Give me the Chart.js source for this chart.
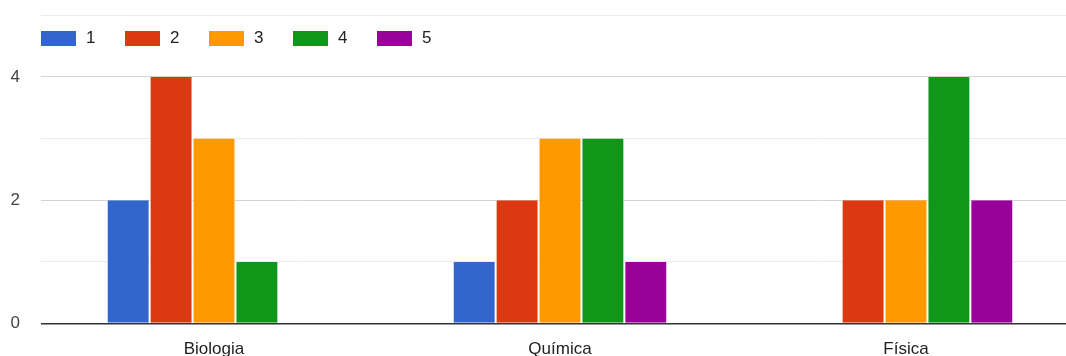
<!DOCTYPE html>
<html>
<head>
<meta charset="utf-8">
<script src="https://cdn.jsdelivr.net/npm/chart.js@4/dist/chart.umd.min.js"></script>
<style>
  html, body { margin: 0; padding: 0; background: #fff; overflow: hidden; }
  #wrap { position: absolute; left: 0; top: -16px; width: 1079px; height: 392px; }
  #legend { position: absolute; left: 41px; top: 28px; display: flex; font-family: Arial, "Liberation Sans", sans-serif; font-size: 17px; color: #222; }
  .item { display: flex; align-items: center; width: 84px; }
  .box { width: 35px; height: 15px; margin-right: 10px; }
</style>
</head>
<body>
<div id="wrap"><canvas id="chart"></canvas></div>
<div id="legend"></div>
<script>
const categories = ["Biologia", "Química", "Física"];
const seriesNames = ["1", "2", "3", "4", "5"];
const seriesColors = ["#3366cc", "#dc3912", "#ff9900", "#109618", "#990099"];
// valores por serie (Biologia, Química, Física)
const values1 = [2, 1, 0];
const values2 = [4, 2, 2];
const values3 = [3, 3, 2];
const values4 = [1, 3, 4];
const values5 = [0, 1, 2];
const yTickLabels = ["0", "2", "4"];

const allValues = [values1, values2, values3, values4, values5];

// leyenda en HTML, encima del área del gráfico
const legend = document.getElementById("legend");
seriesNames.forEach((name, i) => {
  const item = document.createElement("div");
  item.className = "item";
  item.innerHTML = `<span class="box" style="background:${seriesColors[i]}"></span><span>${name}</span>`;
  legend.appendChild(item);
});

const ctx = document.getElementById("chart").getContext("2d");
new Chart(ctx, {
  type: "bar",
  data: {
    labels: categories,
    datasets: seriesNames.map((name, i) => ({
      label: name,
      data: allValues[i],
      backgroundColor: seriesColors[i],
      borderColor: "rgba(255,255,255,0.6)",
      borderWidth: { left: 1, right: 1, top: 0, bottom: 0 },
      categoryPercentage: 0.62,
      barPercentage: 1,
    })),
  },
  options: {
    responsive: true,
    maintainAspectRatio: false,
    animation: false,
    layout: { padding: 0 },
    plugins: {
      legend: { display: false },
      tooltip: { enabled: false },
    },
    scales: {
      x: {
        grid: { display: false, drawTicks: false },
        border: { display: false },
        ticks: {
          padding: 16,
          color: "#222",
          font: { family: "Arial, 'Liberation Sans', sans-serif", size: 17 },
        },
      },
      y: {
        min: 0,
        max: 5,
        afterFit: (scale) => { scale.width = 41; },
        border: { display: false },
        grid: {
          drawTicks: false,
          color: (c) => {
            const v = c.tick.value;
            if (v === 0) return "#333";
            return v % 2 === 0 ? "#d4d4d4" : "#ebebeb";
          },
          lineWidth: (c) => (c.tick.value === 0 ? 1.5 : 1),
        },
        ticks: {
          stepSize: 1,
          padding: 21,
          color: "#444",
          font: { family: "Arial, 'Liberation Sans', sans-serif", size: 17 },
          callback: (v) => (yTickLabels.includes(String(v)) ? String(v) : ""),
        },
      },
    },
  },
});
</script>
</body>
</html>
